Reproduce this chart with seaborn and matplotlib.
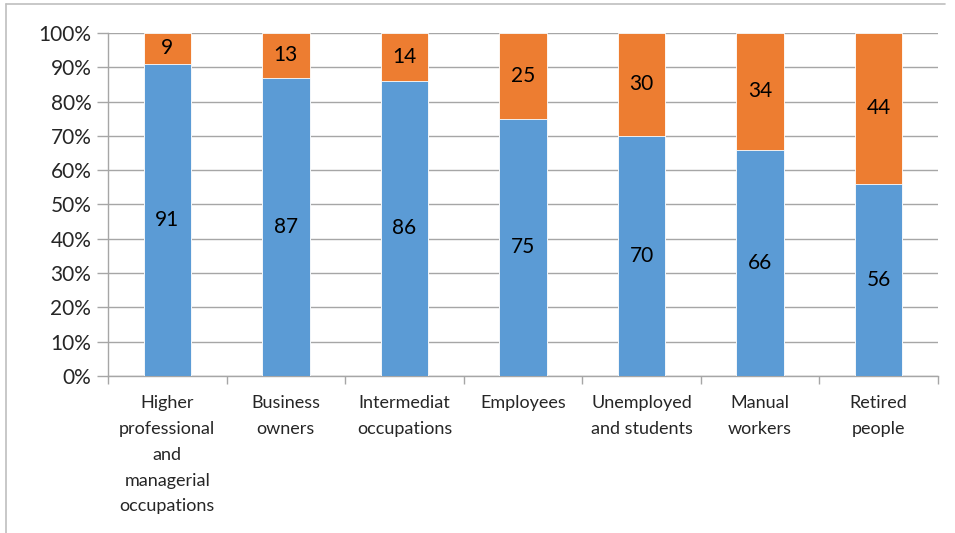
import numpy as np
import pandas as pd
import seaborn as sns
import matplotlib.pyplot as plt
from matplotlib.ticker import FixedLocator, PercentFormatter

categories = ["Higher\nprofessional\nand\nmanagerial\noccupations", "Business\nowners",
              "Intermediat\noccupations", "Employees", "Unemployed\nand students",
              "Manual\nworkers", "Retired\npeople"]
blue_vals = [91, 87, 86, 75, 70, 66, 56]
orange_vals = [9, 13, 14, 25, 30, 34, 44]

df = pd.DataFrame({"cat": categories, "blue": blue_vals, "orange": orange_vals})
df["total"] = df["blue"] + df["orange"]

sns.set_style("white")
plt.rcParams['font.family'] = ['Lato', 'DejaVu Sans']

fig = plt.figure(figsize=(9.55, 5.33), dpi=100)
ax = fig.add_axes([0.1131, 0.2946, 0.8691, 0.6435])

grid_col = "#A6A6A6"
sns.barplot(data=df, x="cat", y="total", color="#ED7D31", width=0.4, saturation=1,
            edgecolor="white", linewidth=0.6, ax=ax, zorder=3)
sns.barplot(data=df, x="cat", y="blue", color="#5B9BD5", width=0.4, saturation=1,
            edgecolor="white", linewidth=0.6, ax=ax, zorder=3)

# labels in the middle of each segment
for i, (b, o) in enumerate(zip(df["blue"], df["orange"])):
    ax.text(i, b / 2, str(b), ha="center", va="center", fontsize=15, color="black", zorder=4)
    ax.text(i, b + o / 2, str(o), ha="center", va="center", fontsize=15, color="black", zorder=4)

ax.set_ylim(0, 100)
ax.set_xlim(-0.5, len(categories) - 0.5)
ax.set_yticks(np.arange(0, 101, 10))
ax.yaxis.set_major_formatter(PercentFormatter(decimals=0))
ax.yaxis.grid(True, color=grid_col, linewidth=1)
ax.set_axisbelow(True)
ax.set_xlabel("")
ax.set_ylabel("")

ax.set_xticks(range(len(categories)))
ax.set_xticklabels(categories, linespacing=1.75, fontsize=13)
ax.xaxis.set_minor_locator(FixedLocator(np.arange(-0.5, len(categories), 1)))
ax.tick_params(axis="x", which="major", length=0, pad=14)
ax.tick_params(axis="x", which="minor", length=6, color=grid_col, width=1, direction="out", bottom=True)
ax.tick_params(axis="y", length=8, color=grid_col, width=1, direction="out", labelsize=15, pad=4, left=True)

for s in ["top", "right"]:
    ax.spines[s].set_visible(False)
for s in ["left", "bottom"]:
    ax.spines[s].set_color(grid_col)
    ax.spines[s].set_linewidth(1)

# outer frame (left and top visible)
fig.add_artist(plt.Line2D([0.0063, 0.0063], [0.0, 0.9925], color="#BFBFBF", lw=1.2,
                          transform=fig.transFigure))
fig.add_artist(plt.Line2D([0.0063, 0.99], [0.9925, 0.9925], color="#BFBFBF", lw=1.2,
                          transform=fig.transFigure))

fig.savefig("out.png", dpi=100)
